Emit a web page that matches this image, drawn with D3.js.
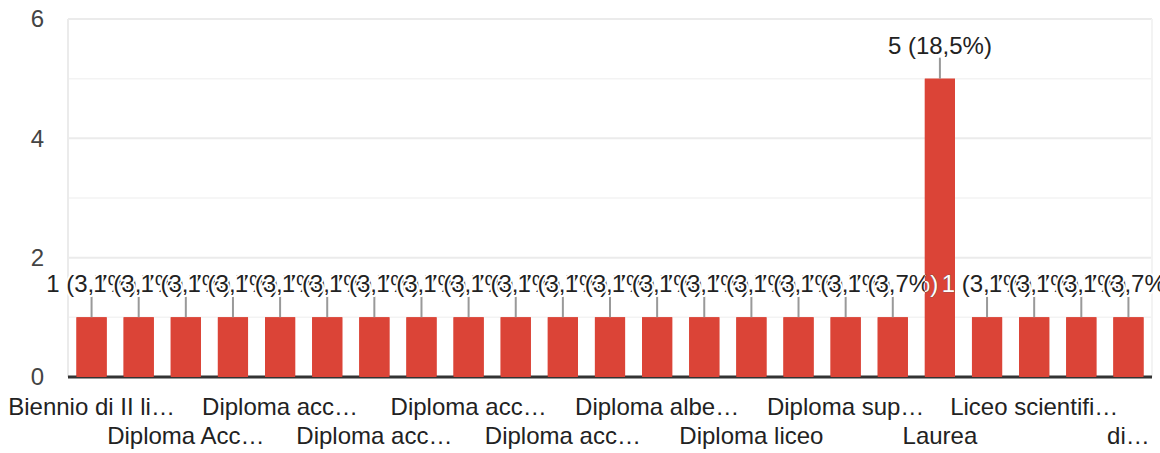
<!DOCTYPE html>
<html>
<head>
<meta charset="utf-8">
<script src="https://cdn.jsdelivr.net/npm/d3@7"></script>
<style>
  body { margin: 0; background: #fff; }
  svg { display: block; font-family: "Liberation Sans", Arial, sans-serif; }
</style>
</head>
<body>
<svg id="chart" width="1160" height="453"></svg>
<script>
// categories in the order shown (only every second one gets a tick label)
const categories = [
  "Biennio di II livello",
  "Diploma accademico di I livello",
  "Diploma Accademico di II livello",
  "Diploma accademico AFAM",
  "Diploma accademico di II livello",
  "Diploma accademico di primo livello",
  "Diploma accademico vecchio ordinamento",
  "Diploma accademico di secondo livello",
  "Diploma accademico triennale",
  "Diploma accademico biennale",
  "Diploma accademico in musica",
  "Diploma alberghiero",
  "Diploma alberghiero e di cucina",
  "Diploma istituto tecnico",
  "Diploma liceo",
  "Diploma liceo classico",
  "Diploma superiore",
  "Diploma tecnico",
  "Laurea",
  "Laurea magistrale",
  "Liceo scientifico",
  "Licenza media",
  "di conservatorio"
];
const counts = [1, 1, 1, 1, 1, 1, 1, 1, 1, 1, 1, 1, 1, 1, 1, 1, 1, 1, 5, 1, 1, 1, 1];
const tickLabels = [
  "Biennio di II li…", "Diploma Acc…", "Diploma acc…", "Diploma acc…",
  "Diploma acc…", "Diploma acc…", "Diploma albe…", "Diploma liceo",
  "Diploma sup…", "Laurea", "Liceo scientifi…", "di…"
];
const yTicks = [0, 2, 4, 6];
const yGrid = [0, 1, 2, 3, 4, 5, 6];

const width = 1160, height = 453;
const margin = {top: 19, right: 8, bottom: 76, left: 68};
const svg = d3.select("#chart");

const x = d3.scaleBand()
  .domain(categories)
  .range([margin.left, width - margin.right])
  .paddingInner(0.36)
  .paddingOuter(0.18);

const y = d3.scaleLinear()
  .domain([0, 6])
  .range([height - margin.bottom, margin.top]);

const total = d3.sum(counts);
const it = d3.formatLocale({decimal: ",", thousands: ".", grouping: [3], currency: ["", "€"]});
const pct = it.format(".1f");
const data = categories.map((c, i) => ({cat: c, v: counts[i], label: counts[i] + " (" + pct(counts[i] / total * 100) + "%)"}));

// grid
svg.append("g")
  .selectAll("line")
  .data(yGrid)
  .join("line")
    .attr("x1", margin.left).attr("x2", width - margin.right)
    .attr("y1", d => y(d)).attr("y2", d => y(d))
    .attr("stroke", d => d % 2 ? "#f3f3f3" : "#ebebeb")
    .attr("stroke-width", d => d % 2 ? 1.5 : 2);

svg.append("g")
  .selectAll("line")
  .data(x.range())
  .join("line")
    .attr("x1", d => d).attr("x2", d => d)
    .attr("y1", y(6)).attr("y2", y(0))
    .attr("stroke", (d, i) => i ? "#f3f3f3" : "#ebebeb")
    .attr("stroke-width", 2);

// y axis
const yAxis = svg.append("g")
  .attr("transform", `translate(${margin.left},0)`)
  .call(d3.axisLeft(y).tickValues(yTicks).tickSize(0).tickPadding(24).tickFormat(d3.format("d")));
yAxis.select(".domain").remove();
yAxis.selectAll("text")
  .attr("font-size", 24)
  .attr("font-family", null)
  .attr("fill", "#444");

// bars
svg.append("g")
  .selectAll("rect")
  .data(data)
  .join("rect")
    .attr("x", d => x(d.cat))
    .attr("y", d => y(d.v))
    .attr("width", x.bandwidth())
    .attr("height", d => y(0) - y(d.v))
    .attr("fill", "#db4437");

// baseline
svg.append("line")
  .attr("x1", margin.left).attr("x2", width - margin.right)
  .attr("y1", y(0)).attr("y2", y(0))
  .attr("stroke", "#333").attr("stroke-width", 3);

// x axis, every second category, staggered on two rows
const shown = categories.filter((c, i) => i % 2 === 0);
const xAxis = svg.append("g")
  .attr("transform", `translate(0,${y(0)})`)
  .call(d3.axisBottom(x).tickValues(shown).tickSize(0)
    .tickFormat(c => tickLabels[shown.indexOf(c)]));
xAxis.select(".domain").remove();
xAxis.selectAll("text")
  .attr("font-size", 24)
  .attr("font-family", null)
  .attr("fill", "#222")
  .attr("dy", null)
  .attr("y", (c, i) => i % 2 ? 67 : 38);

// annotations
const ann = svg.append("g");
ann.selectAll("line")
  .data(data)
  .join("line")
    .attr("x1", d => x(d.cat) + x.bandwidth() / 2)
    .attr("x2", d => x(d.cat) + x.bandwidth() / 2)
    .attr("y1", d => y(d.v))
    .attr("y2", d => y(d.v) - 21)
    .attr("stroke", "#999").attr("stroke-width", 2);

function drawLabels(g, fill, stroke, sw) {
  g.selectAll("text")
    .data(data)
    .join("text")
      .attr("x", d => x(d.cat) + x.bandwidth() / 2)
      .attr("y", d => y(d.v) - 25)
      .attr("text-anchor", "middle")
      .attr("font-size", 24)
      .attr("fill", fill)
      .attr("stroke", stroke)
      .attr("stroke-width", sw)
      .attr("paint-order", "stroke")
      .text(d => d.label);
}
drawLabels(ann.append("g"), "#222", "#fff", 4);

// text that falls on a bar is shown white
svg.append("clipPath").attr("id", "barclip")
  .selectAll("rect")
  .data(data)
  .join("rect")
    .attr("x", d => x(d.cat))
    .attr("y", d => y(d.v))
    .attr("width", x.bandwidth())
    .attr("height", d => y(0) - y(d.v));
const over = svg.append("g").attr("clip-path", "url(#barclip)");
over.append("rect")
  .attr("width", width).attr("height", height)
  .attr("fill", "#db4437");
drawLabels(over.append("g"), "#fff", "#555", 0.6);
over.selectAll("line")
  .data(data)
  .join("line")
    .attr("x1", d => x(d.cat) + x.bandwidth() / 2)
    .attr("x2", d => x(d.cat) + x.bandwidth() / 2)
    .attr("y1", d => y(d.v))
    .attr("y2", d => y(d.v) - 21)
    .attr("stroke", "#999").attr("stroke-width", 2);
</script>
</body>
</html>
